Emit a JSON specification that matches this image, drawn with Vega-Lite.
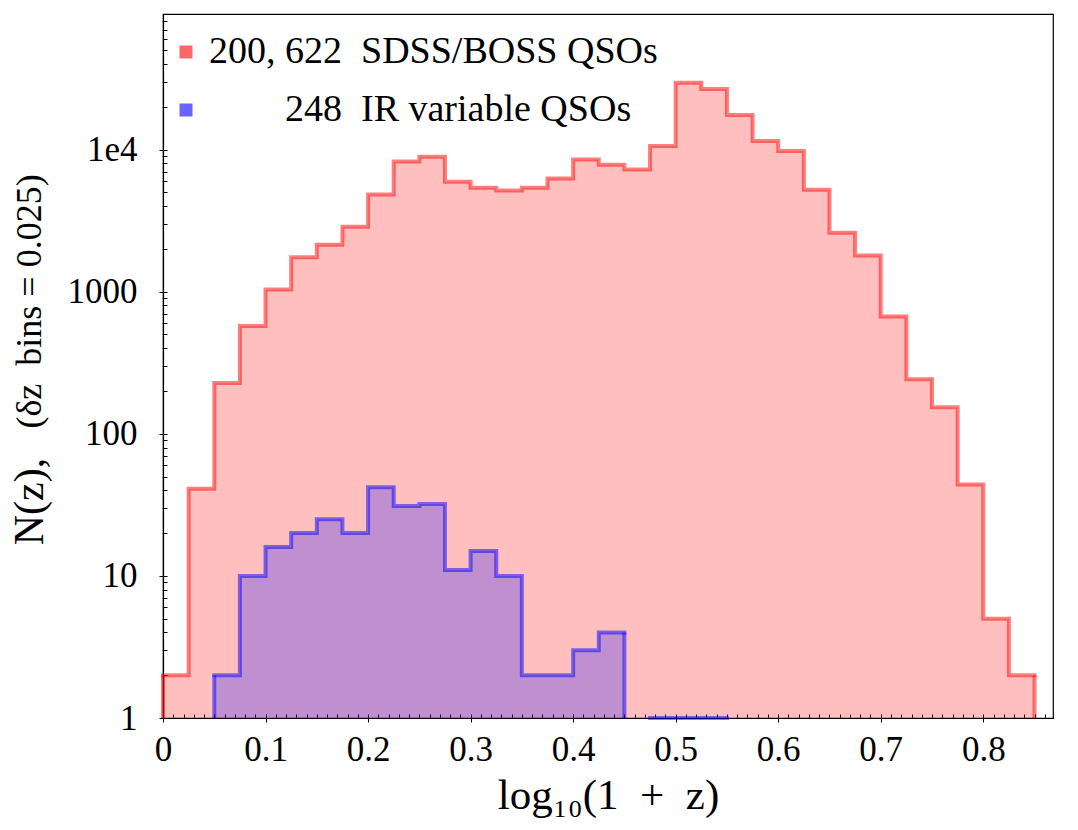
{
  "$schema": "https://vega.github.io/schema/vega-lite/v6.json",
  "width": 890,
  "height": 704,
  "autosize": "none",
  "padding": {"left": 163, "top": 14, "right": 25, "bottom": 112},
  "background": "white",
  "data": {
    "values": [
      {"s": "SDSS/BOSS QSOs", "seg": "r", "z0": 0.000, "z1": 0.025, "n": 2},
      {"s": "SDSS/BOSS QSOs", "seg": "r", "z0": 0.025, "z1": 0.050, "n": 41},
      {"s": "SDSS/BOSS QSOs", "seg": "r", "z0": 0.050, "z1": 0.075, "n": 228},
      {"s": "SDSS/BOSS QSOs", "seg": "r", "z0": 0.075, "z1": 0.100, "n": 573},
      {"s": "SDSS/BOSS QSOs", "seg": "r", "z0": 0.100, "z1": 0.125, "n": 1036},
      {"s": "SDSS/BOSS QSOs", "seg": "r", "z0": 0.125, "z1": 0.150, "n": 1746},
      {"s": "SDSS/BOSS QSOs", "seg": "r", "z0": 0.150, "z1": 0.175, "n": 2143},
      {"s": "SDSS/BOSS QSOs", "seg": "r", "z0": 0.175, "z1": 0.200, "n": 2867},
      {"s": "SDSS/BOSS QSOs", "seg": "r", "z0": 0.200, "z1": 0.225, "n": 4832},
      {"s": "SDSS/BOSS QSOs", "seg": "r", "z0": 0.225, "z1": 0.250, "n": 8240},
      {"s": "SDSS/BOSS QSOs", "seg": "r", "z0": 0.250, "z1": 0.275, "n": 8890},
      {"s": "SDSS/BOSS QSOs", "seg": "r", "z0": 0.275, "z1": 0.300, "n": 5930},
      {"s": "SDSS/BOSS QSOs", "seg": "r", "z0": 0.300, "z1": 0.325, "n": 5385},
      {"s": "SDSS/BOSS QSOs", "seg": "r", "z0": 0.325, "z1": 0.350, "n": 5150},
      {"s": "SDSS/BOSS QSOs", "seg": "r", "z0": 0.350, "z1": 0.375, "n": 5385},
      {"s": "SDSS/BOSS QSOs", "seg": "r", "z0": 0.375, "z1": 0.400, "n": 6255},
      {"s": "SDSS/BOSS QSOs", "seg": "r", "z0": 0.400, "z1": 0.425, "n": 8510},
      {"s": "SDSS/BOSS QSOs", "seg": "r", "z0": 0.425, "z1": 0.450, "n": 7810},
      {"s": "SDSS/BOSS QSOs", "seg": "r", "z0": 0.450, "z1": 0.475, "n": 7240},
      {"s": "SDSS/BOSS QSOs", "seg": "r", "z0": 0.475, "z1": 0.500, "n": 10600},
      {"s": "SDSS/BOSS QSOs", "seg": "r", "z0": 0.500, "z1": 0.525, "n": 29500},
      {"s": "SDSS/BOSS QSOs", "seg": "r", "z0": 0.525, "z1": 0.550, "n": 26700},
      {"s": "SDSS/BOSS QSOs", "seg": "r", "z0": 0.550, "z1": 0.575, "n": 17500},
      {"s": "SDSS/BOSS QSOs", "seg": "r", "z0": 0.575, "z1": 0.600, "n": 11500},
      {"s": "SDSS/BOSS QSOs", "seg": "r", "z0": 0.600, "z1": 0.625, "n": 9790},
      {"s": "SDSS/BOSS QSOs", "seg": "r", "z0": 0.625, "z1": 0.650, "n": 5210},
      {"s": "SDSS/BOSS QSOs", "seg": "r", "z0": 0.650, "z1": 0.675, "n": 2600},
      {"s": "SDSS/BOSS QSOs", "seg": "r", "z0": 0.675, "z1": 0.700, "n": 1795},
      {"s": "SDSS/BOSS QSOs", "seg": "r", "z0": 0.700, "z1": 0.725, "n": 670},
      {"s": "SDSS/BOSS QSOs", "seg": "r", "z0": 0.725, "z1": 0.750, "n": 242},
      {"s": "SDSS/BOSS QSOs", "seg": "r", "z0": 0.750, "z1": 0.775, "n": 154},
      {"s": "SDSS/BOSS QSOs", "seg": "r", "z0": 0.775, "z1": 0.800, "n": 44},
      {"s": "SDSS/BOSS QSOs", "seg": "r", "z0": 0.800, "z1": 0.825, "n": 5},
      {"s": "SDSS/BOSS QSOs", "seg": "r", "z0": 0.825, "z1": 0.850, "n": 2},
      {"s": "IR variable QSOs", "seg": "b1", "z0": 0.050, "z1": 0.075, "n": 2},
      {"s": "IR variable QSOs", "seg": "b1", "z0": 0.075, "z1": 0.100, "n": 10},
      {"s": "IR variable QSOs", "seg": "b1", "z0": 0.100, "z1": 0.125, "n": 16},
      {"s": "IR variable QSOs", "seg": "b1", "z0": 0.125, "z1": 0.150, "n": 20},
      {"s": "IR variable QSOs", "seg": "b1", "z0": 0.150, "z1": 0.175, "n": 25},
      {"s": "IR variable QSOs", "seg": "b1", "z0": 0.175, "z1": 0.200, "n": 20},
      {"s": "IR variable QSOs", "seg": "b1", "z0": 0.200, "z1": 0.225, "n": 42},
      {"s": "IR variable QSOs", "seg": "b1", "z0": 0.225, "z1": 0.250, "n": 31},
      {"s": "IR variable QSOs", "seg": "b1", "z0": 0.250, "z1": 0.275, "n": 32},
      {"s": "IR variable QSOs", "seg": "b1", "z0": 0.275, "z1": 0.300, "n": 11},
      {"s": "IR variable QSOs", "seg": "b1", "z0": 0.300, "z1": 0.325, "n": 15},
      {"s": "IR variable QSOs", "seg": "b1", "z0": 0.325, "z1": 0.350, "n": 10},
      {"s": "IR variable QSOs", "seg": "b1", "z0": 0.350, "z1": 0.375, "n": 2},
      {"s": "IR variable QSOs", "seg": "b1", "z0": 0.375, "z1": 0.400, "n": 2},
      {"s": "IR variable QSOs", "seg": "b1", "z0": 0.400, "z1": 0.425, "n": 3},
      {"s": "IR variable QSOs", "seg": "b1", "z0": 0.425, "z1": 0.450, "n": 4},
      {"s": "IR variable QSOs", "seg": "b2", "z0": 0.475, "z1": 0.500, "n": 1},
      {"s": "IR variable QSOs", "seg": "b2", "z0": 0.500, "z1": 0.525, "n": 1},
      {"s": "IR variable QSOs", "seg": "b2", "z0": 0.525, "z1": 0.550, "n": 1}
    ]
  },
  "layer": [
    {
      "transform": [{"fold": ["z0", "z1"], "as": ["edge", "x"]}],
      "mark": {"type": "area", "fillOpacity": 0.25, "strokeWidth": 0},
      "encoding": {
        "x": {
          "field": "x", "type": "quantitative",
          "scale": {"domain": [0, 0.868], "nice": false, "zero": false},
          "axis": {
            "orient": "bottom",
            "values": [0, 0.1, 0.2, 0.3, 0.4, 0.5, 0.6, 0.7, 0.8],
            "format": ".1~f",
            "tickSize": 4,
            "labelPadding": 10,
            "labelFont": "Liberation Serif",
            "labelFontSize": 35,
            "labelFlush": false,
            "labelOverlap": false,
            "title": "log₁₀(1\u00a0\u00a0+\u00a0\u00a0z)",
            "titleFontSize": 43,
            "titleBaseline": "alphabetic",
            "titleY": 90
          }
        },
        "y": {
          "field": "n", "type": "quantitative", "stack": null,
          "scale": {"type": "log", "domain": [1, 90000], "nice": false},
          "axis": {
            "orient": "left",
            "values": [1, 10, 100, 1000, 10000],
            "labelExpr": "datum.value >= 10000 ? '1e4' : format(datum.value, 'd')",
            "tickSize": 4,
            "labelPadding": 22,
            "labelFont": "Liberation Serif",
            "labelFontSize": 35,
            "labelOverlap": false,
            "title": "N(z),",
            "titleFontSize": 42,
            "titleAngle": -90,
            "titleAlign": "center",
            "titleBaseline": "alphabetic",
            "titleX": -121,
            "titleY": 487
          }
        },
        "y2": {"datum": 1},
        "fill": {
          "field": "s", "type": "nominal",
          "scale": {"domain": ["SDSS/BOSS QSOs", "IR variable QSOs"], "range": ["#ff0000", "#0000ff"]},
          "legend": {
            "orient": "none",
            "legendX": 4,
            "legendY": 19,
            "title": null,
            "symbolType": "square",
            "symbolSize": 169,
            "symbolOpacity": 0.6,
            "symbolStrokeWidth": 0,
            "labelFont": "Liberation Serif",
            "labelFontSize": 38,
            "labelLimit": 0,
            "labelOffset": 4,
            "rowPadding": 20,
            "labelExpr": "datum.label == 'IR variable QSOs' ? '\u200b\u00a0\u00a0\u00a0\u00a0\u00a0\u00a0\u00a0\u00a0248\u00a0\u00a0IR variable QSOs' : '200,\u00a0622\u00a0\u00a0SDSS/BOSS QSOs'"
          }
        },
        "detail": {"field": "seg"},
        "order": [{"field": "z0", "type": "quantitative"}, {"field": "edge", "type": "ordinal"}]
      }
    },
    {
      "transform": [{"fold": ["z0", "z1"], "as": ["edge", "x"]}],
      "mark": {"type": "line", "strokeWidth": 4, "strokeOpacity": 0.5, "strokeJoin": "miter", "strokeCap": "square"},
      "encoding": {
        "x": {
          "field": "x", "type": "quantitative",
          "axis": {
            "orient": "bottom",
            "values": [0, 0.01, 0.02, 0.03, 0.04, 0.05, 0.06, 0.07, 0.08, 0.09, 0.1, 0.11, 0.12, 0.13, 0.14, 0.15, 0.16, 0.17, 0.18, 0.19, 0.2, 0.21, 0.22, 0.23, 0.24, 0.25, 0.26, 0.27, 0.28, 0.29, 0.3, 0.31, 0.32, 0.33, 0.34, 0.35, 0.36, 0.37, 0.38, 0.39, 0.4, 0.41, 0.42, 0.43, 0.44, 0.45, 0.46, 0.47, 0.48, 0.49, 0.5, 0.51, 0.52, 0.53, 0.54, 0.55, 0.56, 0.57, 0.58, 0.59, 0.6, 0.61, 0.62, 0.63, 0.64, 0.65, 0.66, 0.67, 0.68, 0.69, 0.7, 0.71, 0.72, 0.73, 0.74, 0.75, 0.76, 0.77, 0.78, 0.79, 0.8, 0.81, 0.82, 0.83, 0.84, 0.85, 0.86],
            "tickSize": -4,
            "labels": false,
            "domain": false,
            "title": null
          }
        },
        "y": {
          "field": "n", "type": "quantitative",
          "axis": {
            "orient": "left",
            "values": [1, 2, 3, 4, 5, 6, 7, 8, 9, 10, 20, 30, 40, 50, 60, 70, 80, 90, 100, 200, 300, 400, 500, 600, 700, 800, 900, 1000, 2000, 3000, 4000, 5000, 6000, 7000, 8000, 9000, 10000, 20000, 30000, 40000, 50000, 60000, 70000, 80000],
            "tickSize": -4,
            "labels": false,
            "domain": false,
            "title": "(δz\u00a0\u00a0bins = 0.025)",
            "titleFontSize": 36,
            "titleAngle": -90,
            "titleAlign": "center",
            "titleBaseline": "alphabetic",
            "titleX": -123,
            "titleY": 287
          }
        },
        "stroke": {
          "field": "s", "type": "nominal",
          "scale": {"domain": ["SDSS/BOSS QSOs", "IR variable QSOs"], "range": ["#ff0000", "#0000ff"]},
          "legend": null
        },
        "detail": {"field": "seg"},
        "order": [{"field": "z0", "type": "quantitative"}, {"field": "edge", "type": "ordinal"}]
      }
    },
    {
      "transform": [
        {"joinaggregate": [{"op": "min", "field": "z0", "as": "zmin"}], "groupby": ["seg"]},
        {"filter": "datum.z0 == datum.zmin"}
      ],
      "mark": {"type": "rule", "strokeWidth": 4, "strokeOpacity": 0.5},
      "encoding": {
        "x": {"field": "z0", "type": "quantitative", "axis": null},
        "y": {"field": "n", "type": "quantitative", "axis": null},
        "y2": {"datum": 1},
        "stroke": {"field": "s", "type": "nominal", "legend": null}
      }
    },
    {
      "transform": [
        {"joinaggregate": [{"op": "max", "field": "z1", "as": "zmax"}], "groupby": ["seg"]},
        {"filter": "datum.z1 == datum.zmax"}
      ],
      "mark": {"type": "rule", "strokeWidth": 4, "strokeOpacity": 0.5},
      "encoding": {
        "x": {"field": "z1", "type": "quantitative", "axis": null},
        "y": {"field": "n", "type": "quantitative", "axis": null},
        "y2": {"datum": 1},
        "stroke": {"field": "s", "type": "nominal", "legend": null}
      }
    }
  ],
  "resolve": {"axis": {"x": "independent", "y": "independent"}},
  "config": {
    "font": "Liberation Serif",
    "view": {"stroke": "black", "strokeWidth": 1.2},
    "axis": {
      "labelFont": "Liberation Serif",
      "titleFont": "Liberation Serif",
      "labelColor": "black",
      "titleColor": "black",
      "titleFontWeight": "normal",
      "domainColor": "black",
      "domainWidth": 1.2,
      "tickColor": "black",
      "tickWidth": 1,
      "grid": false,
      "zindex": 1
    },
    "legend": {
      "labelFont": "Liberation Serif",
      "labelColor": "black",
      "padding": 0
    }
  }
}
